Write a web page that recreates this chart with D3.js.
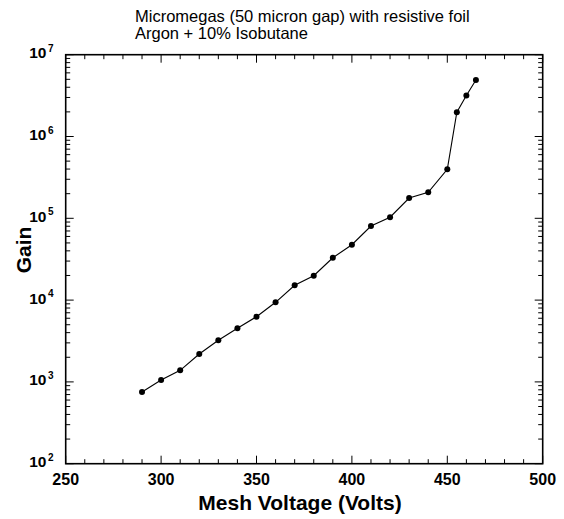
<!DOCTYPE html>
<html>
<head>
<meta charset="utf-8">
<script src="https://cdn.jsdelivr.net/npm/d3@7"></script>
<style>
  body { margin: 0; background: #fff; }
  svg { font-family: "Liberation Sans", Arial, sans-serif; }
</style>
</head>
<body>
<svg id="chart" width="564" height="519"></svg>
<script>
// data
const voltage = [290, 300, 310, 320, 330, 340, 350, 360, 370, 380, 390, 400, 410, 420, 430, 440, 450, 455, 460, 465];
const gain = [753, 1055, 1386, 2193, 3226, 4520, 6270, 9400, 15170, 19870, 32960, 47550, 80500, 103000, 177000, 208000, 397000, 1980000, 3170000, 4910000];
const xTicks = [250, 300, 350, 400, 450, 500];
const yExps = [2, 3, 4, 5, 6, 7];
const titleLines = ["Micromegas (50 micron gap) with resistive foil", "Argon + 10% Isobutane"];

const svg = d3.select("#chart");
const m = { left: 65.7, right: 542.7, top: 54.7, bottom: 463.7 };

const x = d3.scaleLinear().domain([250, 500]).range([m.left, m.right]);
const y = d3.scaleLog().domain([100, 1e7]).range([m.bottom, m.top]);

// minor / major ticks on all four sides, pointing inward
const xMinor = d3.range(250, 501, 10);
const yMinor = [];
yExps.slice(0, -1).forEach(e => { for (let k = 2; k <= 9; k++) yMinor.push(k * Math.pow(10, e)); });

const ticks = svg.append("g").attr("stroke", "#000").attr("stroke-width", 1);
xMinor.forEach(v => {
  const len = v % 50 === 0 ? 8 : 4.5;
  ticks.append("line").attr("x1", x(v)).attr("x2", x(v)).attr("y1", m.bottom).attr("y2", m.bottom - len);
  ticks.append("line").attr("x1", x(v)).attr("x2", x(v)).attr("y1", m.top).attr("y2", m.top + len);
});
yMinor.forEach(v => {
  ticks.append("line").attr("x1", m.left).attr("x2", m.left + 4.5).attr("y1", y(v)).attr("y2", y(v));
  ticks.append("line").attr("x1", m.right).attr("x2", m.right - 4.5).attr("y1", y(v)).attr("y2", y(v));
});
yExps.forEach(e => {
  const v = Math.pow(10, e);
  ticks.append("line").attr("x1", m.left).attr("x2", m.left + 8).attr("y1", y(v)).attr("y2", y(v));
  ticks.append("line").attr("x1", m.right).attr("x2", m.right - 8).attr("y1", y(v)).attr("y2", y(v));
});

// frame
svg.append("rect")
  .attr("x", m.left).attr("y", m.top)
  .attr("width", m.right - m.left).attr("height", m.bottom - m.top)
  .attr("fill", "none").attr("stroke", "#000").attr("stroke-width", 1.6);

// x tick labels
svg.append("g").selectAll("text").data(xTicks).join("text")
  .attr("x", d => x(d)).attr("y", 485)
  .attr("text-anchor", "middle")
  .attr("font-size", 16).attr("font-weight", "bold")
  .text(d => d);

// y tick labels: 10 with superscript exponent
const yl = svg.append("g").selectAll("text").data(yExps).join("text")
  .attr("x", 53.5).attr("y", d => y(Math.pow(10, d)) + 3.5)
  .attr("text-anchor", "end")
  .attr("font-size", 15.5).attr("font-weight", "bold");
yl.append("tspan").text("10");
yl.append("tspan").attr("dy", -6.5).attr("dx", 1.5).attr("font-size", 10).text(d => d);

// axis titles
svg.append("text")
  .attr("x", 300).attr("y", 510)
  .attr("text-anchor", "middle")
  .attr("font-size", 21).attr("font-weight", "bold")
  .text("Mesh Voltage (Volts)");
svg.append("text")
  .attr("transform", "translate(31,250) rotate(-90)")
  .attr("text-anchor", "middle")
  .attr("font-size", 21).attr("font-weight", "bold")
  .text("Gain");

// title
svg.append("g").selectAll("text").data(titleLines).join("text")
  .attr("x", 135).attr("y", (d, i) => 21.5 + i * 17)
  .attr("font-size", 16.5)
  .text(d => d);

// data line and markers
const pts = voltage.map((v, i) => [v, gain[i]]);
svg.append("path")
  .datum(pts)
  .attr("fill", "none").attr("stroke", "#000").attr("stroke-width", 1.1)
  .attr("d", d3.line().x(d => x(d[0])).y(d => y(d[1])));
svg.append("g").selectAll("circle").data(pts).join("circle")
  .attr("cx", d => x(d[0])).attr("cy", d => y(d[1]))
  .attr("r", 3).attr("fill", "#000");
</script>
</body>
</html>
